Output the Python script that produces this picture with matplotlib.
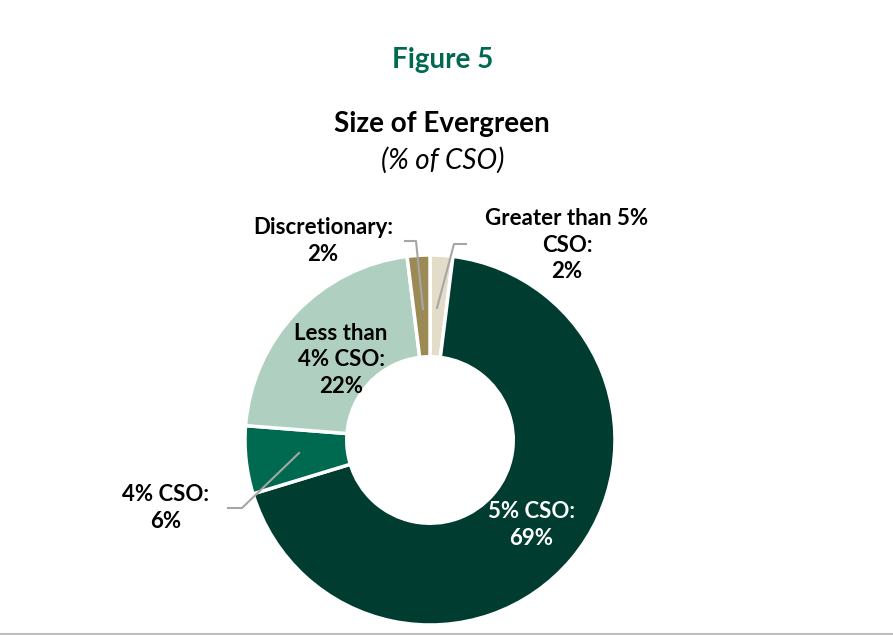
import matplotlib
matplotlib.use("Agg")
import matplotlib.pyplot as plt
from matplotlib.lines import Line2D

# data
labels = ["Greater than 5%\nCSO:\n2%", "5% CSO:\n69%", "4% CSO:\n6%",
          "Less than\n4% CSO:\n22%", "Discretionary:\n2%"]
values = [2, 69, 6, 22, 2]
colors = ["#E2DCC9", "#003D30", "#006A51", "#AFD0C1", "#9C8A55"]

plt.rcParams['font.family'] = ['Lato', 'DejaVu Sans']

W, H = 893, 636
fig = plt.figure(figsize=(W / 100, H / 100), dpi=100)

# donut: centre (430, 440) px, outer radius 185 px
cx, cy, R = 430, 440, 185
ax = fig.add_axes([(cx - R) / W, (H - cy - R) / H, 2 * R / W, 2 * R / H])
ax.pie(values, colors=colors, startangle=90, counterclock=False, radius=1,
       wedgeprops=dict(width=0.55, edgecolor="white", linewidth=2.5))
ax.set_xlim(-1, 1)
ax.set_ylim(-1, 1)
ax.set_aspect("equal")
ax.axis("off")


def px(x, y):
    # pixel -> data coords of the donut axes
    return (x - cx) / R, (cy - y) / R


def fig_xy(x, y):
    return x / W, 1 - y / H


# leader lines
for pts in [[(405, 241), (416, 241), (423, 309)],
            [(466, 244), (454, 244), (437, 308)],
            [(228, 508), (242, 508), (299, 453)]]:
    d = [px(*p) for p in pts]
    ax.add_line(Line2D([p[0] for p in d], [p[1] for p in d], color="#A6A6A6",
                       lw=1.5, clip_on=False))

# slice labels
label_pos = [(567, 245), (531, 525), (166, 508), (341, 360), (323, 241)]
for lab, (x, y), c in zip(labels, label_pos, colors):
    tc = "white" if lab.startswith("5%") else "black"
    fig.text(*fig_xy(x, y), lab, ha="center", va="center", fontsize=16,
             fontweight="bold", color=tc, linespacing=1.3)

# titles
fig.text(*fig_xy(443, 60), "Figure 5", ha="center", va="center", fontsize=20,
         fontweight="bold", color="#006A51")
fig.text(*fig_xy(442, 124), "Size of Evergreen", ha="center", va="center",
         fontsize=20, fontweight="bold", color="black")
fig.text(*fig_xy(443, 160), "(% of CSO)", ha="center", va="center",
         fontsize=20, style="italic", color="black")

# bottom rule
fig.add_artist(Line2D([0, 1], [1 - 634 / H, 1 - 634 / H], color="#BFBFBF", lw=1.5))

fig.savefig("out.png", dpi=100)
